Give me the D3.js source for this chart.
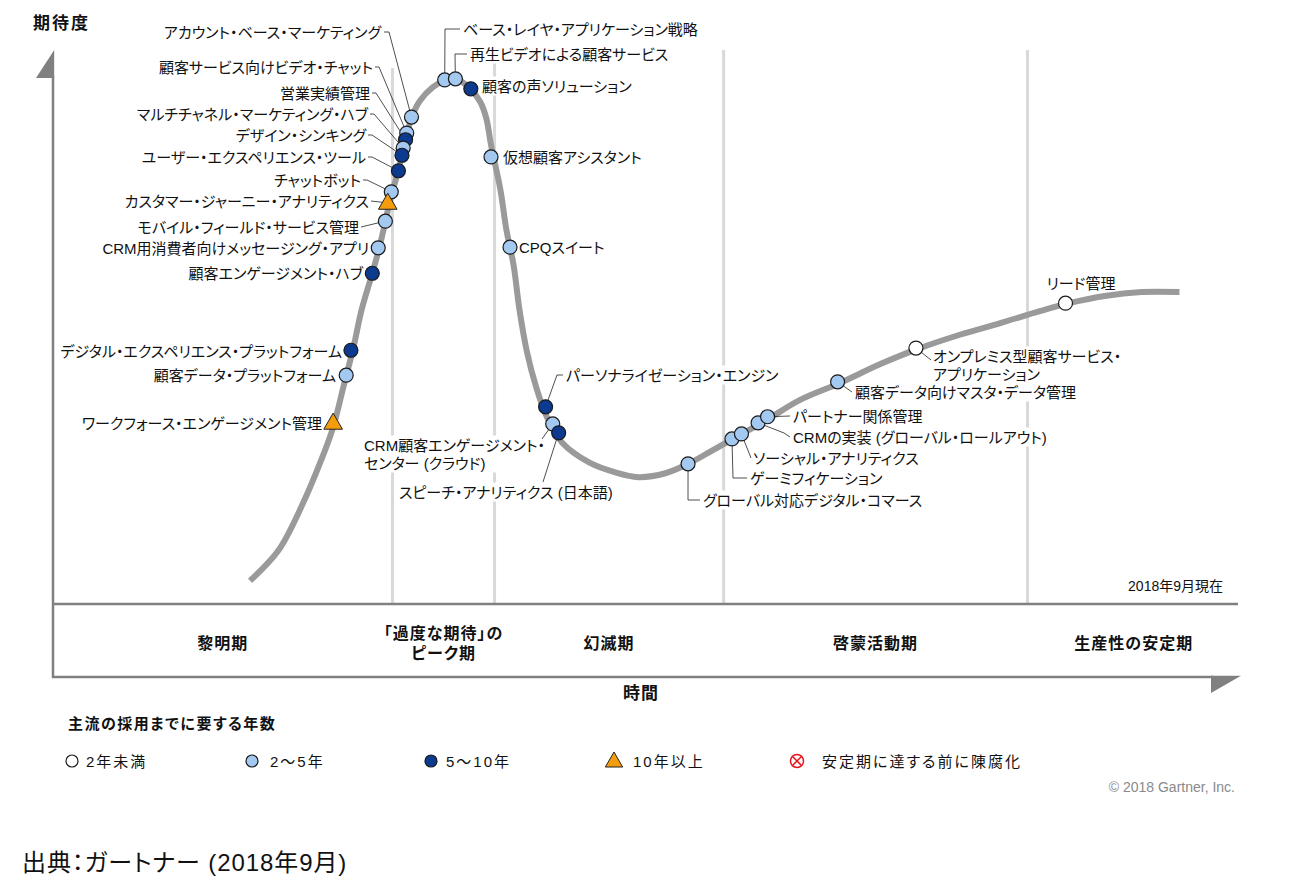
<!DOCTYPE html>
<html>
<head>
<meta charset="utf-8">
<script src="https://cdn.jsdelivr.net/npm/d3@7"></script>
<style>
  body { margin: 0; background: #fff; }
  text { font-family: "Liberation Sans", "Noto Sans CJK JP", sans-serif; fill: #111; font-feature-settings: "palt"; }
  .label { font-size: 15px; }
  .phase { font-size: 16px; font-weight: bold; letter-spacing: 1px; }
  .legend { font-size: 15px; letter-spacing: 2px; }
</style>
</head>
<body>
<div id="my_dataviz"></div>
<script>
// Hype curve (time 0-100, expectations 0-100)
var curveTime   = [16.6, 19.0, 21.0, 22.6, 23.6, 24.5, 25.3, 26.0, 26.9, 27.5, 28.0, 28.4, 29.1, 29.5, 29.9, 30.3, 30.9, 32.0, 32.9, 33.9,
                   35.1, 36.0, 36.5, 36.9, 37.7, 38.2, 38.8, 39.3, 39.9, 40.7, 41.6, 42.9, 45.2, 47.3, 49.3, 51.6, 53.5, 55.3, 57.1, 60.1,
                   62.9, 66.3, 69.7, 72.8, 76.4, 79.8, 83.2, 85.6, 88.6, 91.7, 94.9]
var curveExpect = [4.2, 9.7, 17.9, 26.0, 31.9, 39.5, 46.2, 53.1, 59.7, 64.4, 69.0, 72.9, 78.3, 82.0, 85.6, 88.3, 90.8, 93.3, 94.4, 94.9,
                   93.1, 90.6, 87.7, 82.9, 74.7, 67.5, 61.2, 53.1, 45.8, 39.2, 33.8, 29.1, 25.5, 23.8, 22.9, 23.6, 25.3, 27.4, 29.6, 33.2,
                   36.8, 39.9, 43.3, 46.0, 48.6, 50.7, 52.9, 54.3, 55.6, 56.3, 56.3]

// Technologies on the curve
var techNames = ["アカウント・ベース・マーケティング", "顧客サービス向けビデオ・チャット", "営業実績管理", "マルチチャネル・マーケティング・ハブ",
                 "デザイン・シンキング", "ユーザー・エクスペリエンス・ツール", "チャットボット", "カスタマー・ジャーニー・アナリティクス",
                 "モバイル・フィールド・サービス管理", "CRM用消費者向けメッセージング・アプリ", "顧客エンゲージメント・ハブ",
                 "デジタル・エクスペリエンス・プラットフォーム", "顧客データ・プラットフォーム", "ワークフォース・エンゲージメント管理",
                 "ベース・レイヤ・アプリケーション戦略", "再生ビデオによる顧客サービス", "顧客の声ソリューション", "仮想顧客アシスタント",
                 "CPQスイート", "パーソナライゼーション・エンジン", "CRM顧客エンゲージメント・|センター (クラウド)", "スピーチ・アナリティクス (日本語)",
                 "グローバル対応デジタル・コマース", "ゲーミフィケーション", "ソーシャル・アナリティクス", "CRMの実装 (グローバル・ロールアウト)",
                 "パートナー関係管理", "顧客データ向けマスタ・データ管理", "オンプレミス型顧客サービス・|アプリケーション", "リード管理"]
var techTime   = [30.2, 29.8, 29.7, 29.5, 29.4, 29.1, 28.5, 28.2, 28.0, 27.4, 26.9, 25.1, 24.7, 23.6,
                  33.0, 33.9, 35.2, 36.9, 38.5, 41.5, 42.1, 42.6, 53.5, 57.2, 58.0, 59.4, 60.2, 66.1, 72.7, 85.3]
var techExpect = [87.9, 85.0, 83.8, 82.3, 81.0, 78.2, 74.4, 72.4, 69.1, 64.3, 59.7, 45.8, 41.3, 32.7,
                  94.6, 94.8, 93.0, 80.7, 64.4, 35.6, 32.5, 30.9, 25.3, 29.8, 30.7, 32.7, 33.8, 40.1, 46.2, 54.3]
// years to mainstream adoption: 0 = <2, 1 = 2-5, 2 = 5-10, 3 = >10
var techYears  = [1, 1, 2, 1, 2, 2, 1, 3, 1, 1, 2, 2, 1, 3,
                  1, 1, 2, 1, 1, 2, 1, 2, 1, 1, 1, 1, 1, 1, 0, 0]

// Phases
var phaseNames  = ["黎明期", "「過度な期待」の|ピーク期", "幻滅期", "啓蒙活動期", "生産性の安定期"]
var phaseBounds = [0, 28.6, 37.2, 56.5, 82.1, 100]

// Legend
var legendKeys   = [0, 1, 2, 3, 4]
var legendLabels = ["2年未満", "2〜5年", "5〜10年", "10年以上", "安定期に達する前に陳腐化"]
var colors = ["#ffffff", "#a3c9f1", "#0b3a8e", "#f39c0d"]

// Label placement (pixels): anchor, x, y and leader waypoints toward the marker
var labelPos = [
  ["end", 381, 32, [[384, 32], [389, 32]]],
  ["end", 373, 67, [[375, 67], [379, 67]]],
  ["end", 370, 93, [[372, 93], [376, 93]]],
  ["end", 368, 114, [[370, 114], [374, 114]]],
  ["end", 366, 135, [[368, 135], [372, 135]]],
  ["end", 366, 157, [[368, 157], [372, 157]]],
  ["end", 361, 180, [[363, 180], [367, 180]]],
  ["end", 369, 201, [[371, 201]]],
  ["end", 359, 227, [[361, 227]]],
  ["end", 369, 248, null],
  ["end", 363, 273, null],
  ["end", 342, 351, null],
  ["end", 336, 375, null],
  ["end", 322, 423, null],
  ["start", 463, 29, [[460, 29], [445, 29]]],
  ["start", 470, 54, [[467, 54], [455, 54]]],
  ["start", 482, 86, null],
  ["start", 503, 157, null],
  ["start", 519, 247, null],
  ["start", 566, 375, [[563, 375], [557, 375]]],
  ["start", 364, 445, [[542, 439]]],
  ["start", 399, 492, [[543, 482]]],
  ["start", 703, 500, [[700, 500], [688, 500]]],
  ["start", 750, 478, [[747, 478], [733, 478]]],
  ["start", 753, 458, [[751, 458]]],
  ["start", 793, 437, [[790, 437], [784, 433]]],
  ["start", 793, 416, [[790, 416]]],
  ["start", 855, 392, [[852, 392]]],
  ["start", 933, 356, [[931, 360]]],
  ["middle", 1081, 283, null]
]

var width = 1309
var height = 885
var margin = {left: 53, right: 69, top: 50, base: 604}

const svg = d3.select("#my_dataviz")
              .append("svg")
              .attr("width", width)
              .attr("height", height)

var xScale = d3.scaleLinear().domain([0, 100]).range([margin.left, width - margin.right])
var yScale = d3.scaleLinear().domain([0, 100]).range([margin.base, margin.top])

var axisColor = "#808080"

// 1. Phase separators
svg.selectAll("sep")
   .data(phaseBounds.slice(1, -1))
   .enter()
   .append("line")
   .attr("x1", d => xScale(d)).attr("x2", d => xScale(d))
   .attr("y1", (d, i) => i == 0 ? 68 : yScale(100)).attr("y2", yScale(0))
   .attr("stroke", "#d9d9d9")
   .attr("stroke-width", 3)

// 2. Axes, phase box and arrows
var axes = svg.append("g").attr("stroke", axisColor).attr("stroke-width", 2.5)
axes.append("line").attr("x1", 53).attr("x2", 53).attr("y1", 76).attr("y2", 678)
axes.append("line").attr("x1", 52).attr("x2", 1238).attr("y1", yScale(0)).attr("y2", yScale(0))
axes.append("line").attr("x1", 52).attr("x2", 1214).attr("y1", 677).attr("y2", 677)

svg.append("path").attr("d", "M36,78 L54.2,50 L54.2,78 Z").attr("fill", axisColor)
svg.append("path").attr("d", "M1211,675.8 L1241,675.8 L1211,693 Z").attr("fill", axisColor)

// 3. Layers: white boxes hide separators behind text
var boxLayer = svg.append("g")
var curveLayer = svg.append("g")
var leaderLayer = svg.append("g")
var markerLayer = svg.append("g")
var textLayer = svg.append("g")

curveLayer.append("path")
   .datum(d3.range(curveTime.length))
   .attr("d", d3.line()
                .x(i => xScale(curveTime[i]))
                .y(i => yScale(curveExpect[i]))
                .curve(d3.curveCatmullRom))
   .attr("fill", "none")
   .attr("stroke", "#9a9a9a")
   .attr("stroke-width", 6)

techNames.forEach(function(name, i){
    var p = labelPos[i]
    var lines = name.split("|")
    var t = textLayer.append("text")
                     .attr("class", "label")
                     .attr("text-anchor", p[0])
    lines.forEach(function(l, k){
        t.append("tspan")
         .attr("x", p[1])
         .attr("y", p[2] + k * 18)
         .attr("dominant-baseline", "central")
         .text(l)
    })
    var b = t.node().getBBox()
    boxLayer.append("rect")
            .attr("x", b.x - 2).attr("y", b.y - 1)
            .attr("width", b.width + 4).attr("height", b.height + 2)
            .attr("fill", "#fff")

    if (p[3]){
        var pts = p[3].concat([[xScale(techTime[i]), yScale(techExpect[i])]])
        leaderLayer.append("path")
                   .attr("d", d3.line()(pts))
                   .attr("fill", "none")
                   .attr("stroke", "#222")
                   .attr("stroke-width", 0.8)
    }
})

// 4. Markers
function drawMarker(g, cat, cx, cy, big){
    if (cat == 3){
        g.append("path")
         .attr("d", d3.symbol(d3.symbolTriangle, big ? 150 : 130)())
         .attr("transform", "translate(" + cx + "," + (cy + 1) + ")")
         .attr("fill", colors[3]).attr("stroke", "#222").attr("stroke-width", 1)
    } else if (cat == 4){
        g.append("circle").attr("cx", cx).attr("cy", cy).attr("r", 6.5)
         .attr("fill", "none").attr("stroke", "#e8141c").attr("stroke-width", 1.5)
        var k = 4.2
        g.append("path")
         .attr("d", "M" + (cx - k) + "," + (cy - k) + "L" + (cx + k) + "," + (cy + k) +
                    "M" + (cx + k) + "," + (cy - k) + "L" + (cx - k) + "," + (cy + k))
         .attr("stroke", "#e8141c").attr("stroke-width", 1.5)
    } else {
        g.append("circle").attr("cx", cx).attr("cy", cy).attr("r", big ? 7 : 6)
         .attr("fill", colors[cat]).attr("stroke", "#1a1a1a").attr("stroke-width", 1.2)
    }
}

techNames.forEach(function(name, i){
    drawMarker(markerLayer, techYears[i], xScale(techTime[i]), yScale(techExpect[i]), true)
})

// 5. Phase names
phaseNames.forEach(function(name, i){
    var cx = (xScale(phaseBounds[i]) + xScale(phaseBounds[i + 1])) / 2
    var lines = name.split("|")
    var t = svg.append("text").attr("class", "phase").attr("text-anchor", "middle")
    lines.forEach(function(l, k){
        t.append("tspan")
         .attr("x", cx)
         .attr("y", 643 + (k - (lines.length - 1) / 2) * 20)
         .attr("dominant-baseline", "central")
         .text(l)
    })
})

// 6. Titles and notes
svg.append("text").attr("x", 33).attr("y", 23)
   .attr("dominant-baseline", "central")
   .style("font-size", "17px").style("font-weight", "bold").style("letter-spacing", "2px")
   .text("期待度")

svg.append("text").attr("x", 641).attr("y", 693)
   .attr("text-anchor", "middle").attr("dominant-baseline", "central")
   .style("font-size", "17px").style("font-weight", "bold").style("letter-spacing", "1px")
   .text("時間")

svg.append("text").attr("x", 1223).attr("y", 586)
   .attr("text-anchor", "end").attr("dominant-baseline", "central")
   .style("font-size", "14px")
   .text("2018年9月現在")

svg.append("text").attr("x", 68).attr("y", 723)
   .attr("dominant-baseline", "central")
   .style("font-size", "15px").style("font-weight", "bold").style("letter-spacing", "1.5px")
   .text("主流の採用までに要する年数")

var legendX = [72, 252, 431, 614, 797]
var legendTextX = [86, 270, 446, 633, 822]
legendKeys.forEach(function(k, i){
    drawMarker(svg, k, legendX[i], 761, false)
    svg.append("text")
       .attr("class", "legend")
       .attr("x", legendTextX[i]).attr("y", 761)
       .attr("dominant-baseline", "central")
       .text(legendLabels[i])
})

svg.append("text").attr("x", 1235).attr("y", 787)
   .attr("text-anchor", "end").attr("dominant-baseline", "central")
   .style("font-size", "14px").style("fill", "#8a8a8a")
   .text("© 2018 Gartner, Inc.")

svg.append("text").attr("x", 22).attr("y", 862)
   .attr("dominant-baseline", "central")
   .style("font-size", "24px").style("letter-spacing", "0.9px")
   .text("出典：ガートナー (2018年9月)")
</script>
</body>
</html>
